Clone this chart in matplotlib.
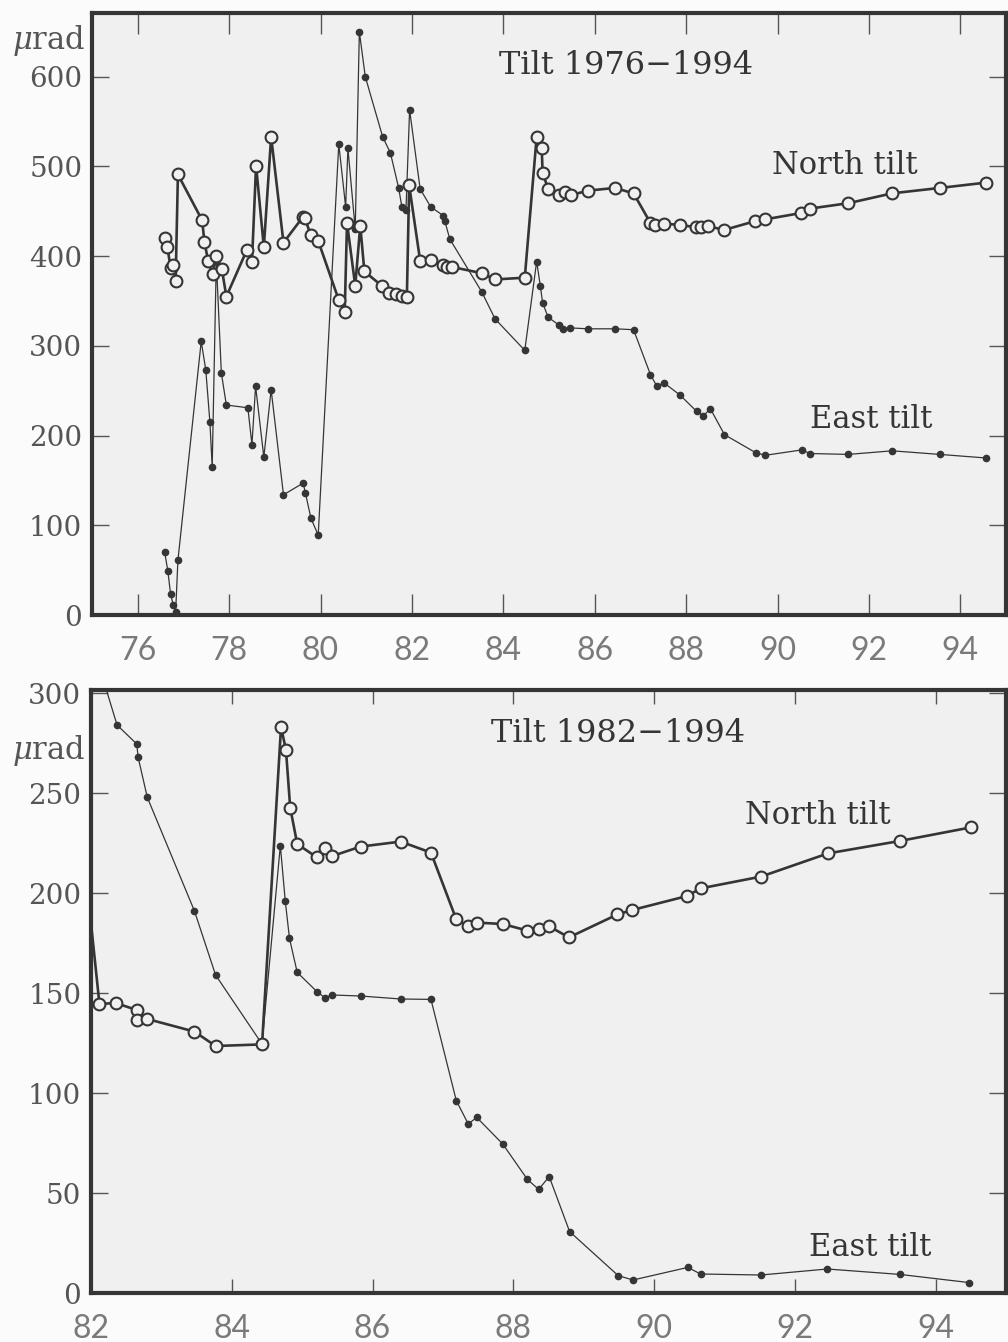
import matplotlib
matplotlib.use("Agg")
import matplotlib.pyplot as plt
import numpy as np

plt.rcParams['mathtext.fontset'] = 'dejavuserif'

# top panel, 1976-1994
north_yr_a = [76.59, 76.65, 76.72, 76.78, 76.83, 76.88, 77.41, 77.46, 77.54, 77.64, 77.72, 77.84, 77.94,
              78.39, 78.50, 78.59, 78.76, 78.92, 79.19, 79.62, 79.66, 79.79, 79.95, 80.40, 80.53, 80.58,
              80.76, 80.87, 80.96, 81.34, 81.50, 81.66, 81.78, 81.89, 81.94, 82.18, 82.41, 82.69, 82.77,
              82.87, 83.53, 83.82, 84.47, 84.73, 84.84, 84.86, 84.98, 85.22, 85.34, 85.48, 85.85, 86.44,
              86.85, 87.22, 87.33, 87.51, 87.86, 88.22, 88.33, 88.47, 88.82, 89.51, 89.73, 90.51, 90.71,
              91.55, 92.51, 93.55, 94.57]
north_val_a = [420, 410, 387, 390, 372, 491, 440, 416, 395, 380, 400, 386, 355,
               407, 393, 501, 410, 533, 415, 444, 442, 423, 417, 351, 338, 437,
               367, 434, 383, 367, 359, 358, 356, 355, 479, 395, 396, 390, 388,
               388, 381, 374, 376, 533, 521, 493, 475, 468, 472, 468, 473, 476,
               470, 437, 435, 436, 435, 432, 433, 434, 429, 439, 441, 448, 453,
               459, 470, 476, 482]

east_yr_a = [76.59, 76.66, 76.72, 76.78, 76.83, 76.88, 77.39, 77.49, 77.58, 77.63, 77.72, 77.83, 77.94,
             78.41, 78.50, 78.58, 78.76, 78.92, 79.19, 79.62, 79.67, 79.79, 79.95, 80.40, 80.55, 80.60,
             80.76, 80.85, 80.98, 81.36, 81.53, 81.71, 81.78, 81.87, 81.95, 82.18, 82.41, 82.69, 82.72,
             82.83, 83.53, 83.82, 84.47, 84.73, 84.81, 84.86, 84.98, 85.22, 85.31, 85.47, 85.85, 86.44,
             86.85, 87.22, 87.36, 87.51, 87.87, 88.23, 88.38, 88.53, 88.84, 89.52, 89.73, 90.53, 90.71,
             91.55, 92.51, 93.55, 94.57]
east_val_a = [70, 49, 23, 11, 3, 61, 305, 273, 215, 165, 395, 270, 234,
              231, 190, 255, 176, 251, 134, 147, 136, 108, 89, 525, 455, 520,
              430, 650, 600, 533, 515, 476, 455, 451, 563, 475, 455, 445, 439,
              419, 360, 330, 295, 394, 367, 348, 332, 323, 319, 320, 319, 319,
              318, 268, 255, 259, 245, 227, 222, 230, 201, 181, 178, 184, 180,
              179, 183, 179, 175]

# bottom panel, 1982-1994
north_yr_b = [81.94, 82.12, 82.35, 82.65, 82.66, 82.80, 83.47, 83.77, 84.43, 84.70, 84.77, 84.83,
              84.93, 85.21, 85.32, 85.43, 85.83, 86.40, 86.83, 87.19, 87.35, 87.48, 87.85, 88.20,
              88.36, 88.50, 88.79, 89.48, 89.69, 90.47, 90.66, 91.52, 92.47, 93.49, 94.50]
north_val_b = [205, 144.5, 145, 141.5, 136.5, 137, 130.7, 123.5, 124.3, 283, 271.5, 242.7,
               224.5, 217.8, 222.7, 218.5, 223.2, 225.7, 220.2, 186.8, 183.5, 185.2, 184.5, 181.2,
               181.8, 183.5, 177.8, 189.3, 191.5, 198.5, 202.3, 208.2, 219.8, 226, 232.8]

east_yr_b = [82.18, 82.37, 82.65, 82.67, 82.80, 83.47, 83.77, 84.43, 84.69, 84.76, 84.82, 84.93,
             85.21, 85.32, 85.43, 85.83, 86.40, 86.83, 87.19, 87.36, 87.48, 87.85, 88.20, 88.36,
             88.51, 88.80, 89.49, 89.70, 90.48, 90.66, 91.52, 92.46, 93.49, 94.48]
east_val_b = [306, 284, 274.5, 267.8, 247.8, 191, 159, 124.5, 223.7, 196, 177.3, 160.3,
              150.7, 147.7, 149, 148.5, 147, 146.8, 96.2, 84.5, 87.8, 74.5, 56.8, 51.8,
              58.2, 30.7, 8.7, 6.5, 12.8, 9.5, 9, 12, 9.3, 5.2]

xticks_a = [76, 78, 80, 82, 84, 86, 88, 90, 92, 94]
yticks_a = [0, 100, 200, 300, 400, 500, 600]
xticks_b = [82, 84, 86, 88, 90, 92, 94]
yticks_b = [0, 50, 100, 150, 200, 250, 300]

W, H = 1008, 1342
ink = '#353535'
bg = '#f0f0f0'

fig = plt.figure(figsize=(W / 100, H / 100), dpi=100, facecolor='#fbfbfb')


def px_box(left, top, right, bottom):
    return [left / W, 1 - bottom / H, (right - left) / W, (bottom - top) / H]


def style_axes(ax, xlim, ylim, xticks, yticks, xlen):
    ax.set_facecolor(bg)
    ax.set_xlim(*xlim)
    ax.set_ylim(*ylim)
    ax.set_xticks(xticks)
    ax.set_yticks(yticks)
    for s in ax.spines.values():
        s.set_linewidth(3)
        s.set_color(ink)
    ax.tick_params(axis='x', direction='in', length=xlen, width=1, color='#555555',
                   top=True, pad=15, labelsize=23, labelcolor='#7a7a7a')
    ax.tick_params(axis='y', direction='in', length=12, width=1, color='#555555',
                   right=True, pad=7, labelsize=20, labelcolor='#555555')
    for lab in ax.get_xticklabels():
        lab.set_family(['Lato', 'DejaVu Sans'])
        lab.set_fontweight('normal')
    for lab in ax.get_yticklabels():
        lab.set_family('DejaVu Serif')


def draw(ax, ny, nv, ey, ev):
    x0, x1 = ax.get_xlim()
    y0, y1 = ax.get_ylim()
    ey, ev, ny, nv = map(np.asarray, (ey, ev, ny, nv))
    ax.plot(ey, ev, color=ink, lw=0.9, zorder=2)
    m = (ey >= x0) & (ey <= x1) & (ev <= y1)
    ax.plot(ey[m], ev[m], ls='none', marker='o', ms=4.5, mfc=ink, mec=ink, zorder=2)
    ax.plot(ny, nv, color=ink, lw=1.9, zorder=3)
    m = (ny >= x0) & (ny <= x1) & (nv <= y1)
    ax.plot(ny[m], nv[m], ls='none', marker='o', ms=8.5, mfc=bg, mec=ink, mew=1.5, zorder=3)


ax1 = fig.add_axes(px_box(92, 13, 1006, 615))
style_axes(ax1, (75, 95), (0, 671), xticks_a, yticks_a, 15)
draw(ax1, north_yr_a, north_val_a, east_yr_a, east_val_a)

ax2 = fig.add_axes(px_box(91, 690, 1006, 1293))
style_axes(ax2, (82, 95), (0, 301.5), xticks_b, yticks_b, 10)
draw(ax2, north_yr_b, north_val_b, east_yr_b, east_val_b)


def label(x, y, s, size=22, ha='center'):
    fig.text(x / W, 1 - y / H, s, ha=ha, va='center', fontsize=size,
             family='DejaVu Serif', color=ink)


label(626, 66, 'Tilt 1976\u22121994', 23)
label(845, 165, 'North tilt')
label(871, 420, 'East tilt')
label(618, 733, 'Tilt 1982\u22121994', 23)
label(818, 815, 'North tilt')
label(870, 1247, 'East tilt')
fig.text(49 / W, 1 - 40 / H, r'$\mu$rad', ha='center', va='center', fontsize=22,
         family='DejaVu Serif', color='#555555')
fig.text(49 / W, 1 - 750 / H, r'$\mu$rad', ha='center', va='center', fontsize=22,
         family='DejaVu Serif', color='#555555')

fig.savefig('out.png', dpi=100, facecolor=fig.get_facecolor())
